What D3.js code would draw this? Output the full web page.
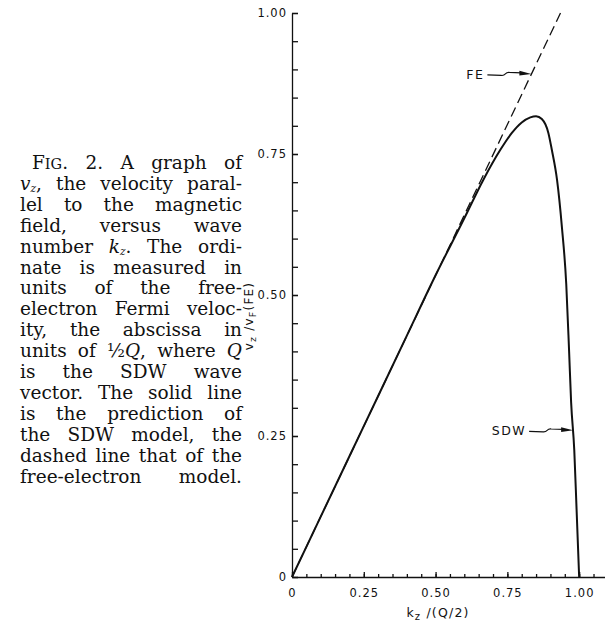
<!DOCTYPE html>
<html>
<head>
<meta charset="utf-8">
<script src="https://cdn.jsdelivr.net/npm/d3@7/dist/d3.min.js"></script>
<style>
  body { margin: 0; background: #fff; }
  svg { display: block; }
  .tick text { font-family: "DejaVu Sans", sans-serif; font-size: 11.5px; letter-spacing: 1px; fill: #111; }
  .caption { font-family: "DejaVu Serif", serif; font-size: 18.5px; fill: #111; }
</style>
</head>
<body>
<script>
// free-electron model (dashed line)
var feK = [0, 0.935];
var feV = [0, 1.0];

// SDW model (solid line)
var sdwK = [0, 0.1, 0.2, 0.3, 0.4, 0.5, 0.6, 0.666, 0.725, 0.765, 0.8, 0.83, 0.85, 0.87, 0.893, 0.905, 0.923, 0.94, 0.955, 0.965, 0.972, 0.983, 0.991, 1.0];
var sdwV = [0, 0.107, 0.214, 0.321, 0.428, 0.535, 0.636, 0.704, 0.757, 0.787, 0.806, 0.815, 0.817, 0.812, 0.787, 0.757, 0.704, 0.62, 0.52, 0.40, 0.31, 0.225, 0.12, 0];

// axis ticks
var majorTicks = [0, 0.25, 0.5, 0.75, 1.0];
var tickLabels = ["0", "0.25", "0.50", "0.75", "1.00"];
var xMinor = d3.range(0, 22).map(function(i){ return i * 0.05; });
var yMinor = d3.range(0, 21).map(function(i){ return i * 0.05; });

// caption lines: [text, style] segments
var captionLines = [
    [["F", ""], ["IG", "sc"], [". 2. A graph of", ""]],
    [["v", "i"], ["z", "isub"], [", the velocity paral-", ""]],
    [["lel to the magnetic", ""]],
    [["field, versus wave", ""]],
    [["number ", ""], ["k", "i"], ["z", "isub"], [". The ordi-", ""]],
    [["nate is measured in", ""]],
    [["units of the free-", ""]],
    [["electron Fermi veloc-", ""]],
    [["ity, the abscissa in", ""]],
    [["units of ", ""], ["\u00BD", ""], ["Q", "i"], [", where ", ""], ["Q", "i"]],
    [["is the SDW wave", ""]],
    [["vector. The solid line", ""]],
    [["is the prediction of", ""]],
    [["the SDW model, the", ""]],
    [["dashed line that of the", ""]],
    [["free-electron model.", ""]]
];

var width = 605, height = 631;

var svg = d3.select("body")
    .append("svg")
    .attr("width", width)
    .attr("height", height);

var x = d3.scaleLinear().domain([0, 1.09]).range([292, 605]);
var y = d3.scaleLinear().domain([0, 1]).range([577, 13]);

//x axis: minor ticks then labelled major ticks
svg.append("g")
    .attr("transform", "translate(0," + y(0) + ")")
    .call(d3.axisBottom(x).tickValues(xMinor).tickSizeInner(-3).tickSizeOuter(0).tickFormat(""))
    .call(function(g){ g.selectAll("line, path").attr("stroke", "#111").attr("stroke-width", 1.3); });

svg.append("g")
    .attr("transform", "translate(0," + y(0) + ")")
    .call(d3.axisBottom(x).tickValues(majorTicks).tickSizeInner(-5).tickSizeOuter(0).tickPadding(12)
        .tickFormat(function(d, i){ return tickLabels[i]; }))
    .call(function(g){
        g.select(".domain").remove();
        g.selectAll("line").attr("stroke", "#111").attr("stroke-width", 1.3);
    });

//y axis
svg.append("g")
    .attr("transform", "translate(" + x(0) + ",0)")
    .call(d3.axisLeft(y).tickValues(yMinor).tickSizeInner(-6).tickSizeOuter(0).tickFormat(""))
    .call(function(g){ g.selectAll("line, path").attr("stroke", "#111").attr("stroke-width", 1.3); });

svg.append("g")
    .attr("transform", "translate(" + x(0) + ",0)")
    .call(d3.axisLeft(y).tickValues(majorTicks).tickSizeInner(-6).tickSizeOuter(0).tickPadding(5)
        .tickFormat(function(d, i){ return tickLabels[i]; }))
    .call(function(g){
        g.select(".domain").remove();
        g.selectAll("line").attr("stroke", "#111").attr("stroke-width", 1.3);
    });

//axis titles
var xTitle = svg.append("text")
    .attr("x", 438).attr("y", 617)
    .attr("text-anchor", "middle")
    .style("font-family", "DejaVu Sans, sans-serif")
    .style("font-size", "12.5px")
    .style("letter-spacing", "1.2px")
    .style("fill", "#111");
xTitle.append("tspan").text("k");
xTitle.append("tspan").attr("dy", 3).style("font-size", "10px").text("z");
xTitle.append("tspan").attr("dy", -3).text(" /(Q/2)");

var yTitle = svg.append("text")
    .attr("transform", "translate(253,316) rotate(-90)")
    .attr("text-anchor", "middle")
    .style("font-family", "DejaVu Sans, sans-serif")
    .style("font-size", "12px")
    .style("letter-spacing", "1.2px")
    .style("fill", "#111");
yTitle.append("tspan").text("v");
yTitle.append("tspan").attr("dy", 3).style("font-size", "9.5px").text("z");
yTitle.append("tspan").attr("dy", -3).text(" /v");
yTitle.append("tspan").attr("dy", 3).style("font-size", "9.5px").text("F");
yTitle.append("tspan").attr("dy", -3).text("(FE)");

//curves
var line = d3.line()
    .x(function(d){ return x(d[0]); })
    .y(function(d){ return y(d[1]); });

svg.append("path")
    .datum(d3.zip(feK, feV))
    .attr("d", line)
    .attr("fill", "none")
    .attr("stroke", "#111")
    .attr("stroke-width", 1.3)
    .attr("stroke-dasharray", "10,5");

svg.append("path")
    .datum(d3.zip(sdwK, sdwV))
    .attr("d", line.curve(d3.curveMonotoneX))
    .attr("fill", "none")
    .attr("stroke", "#111")
    .attr("stroke-width", 2);

//annotation arrows (tip positions in data units)
function labelArrow(label, tipK, tipV, len){
    var tx = x(tipK), ty = y(tipV);
    var sx = tx - len;
    svg.append("text")
        .attr("x", sx - 3).attr("y", ty + 5)
        .attr("text-anchor", "end")
        .style("font-family", "DejaVu Sans, sans-serif")
        .style("font-size", "12.5px")
        .style("letter-spacing", "1.5px")
        .style("fill", "#111")
        .text(label);
    var p = d3.path();
    p.moveTo(sx, ty + 1);
    p.lineTo(sx + 14, ty + 1.5);
    p.bezierCurveTo(sx + 19, ty + 2, sx + 17, ty - 2, sx + 22, ty - 1.5);
    p.lineTo(tx - 10, ty - 1);
    svg.append("path").attr("d", p.toString())
        .attr("fill", "none").attr("stroke", "#111").attr("stroke-width", 1.1);
    svg.append("path")
        .attr("d", "M" + (tx - 12) + "," + (ty - 3.2) + "L" + tx + "," + ty + "L" + (tx - 12) + "," + (ty + 1.6) + "Z")
        .attr("fill", "#111");
}
labelArrow("FE", 0.892 / 1.07, 0.892, 44);
labelArrow("SDW", 0.979, 0.26, 44);

//caption, justified between left and right edges
var capLeft = 20, capRight = 242, capTop = 169, lineH = 20.9;
captionLines.forEach(function(segs, i){
    var indent = i === 0 ? 12 : 0;
    var t = svg.append("text")
        .attr("class", "caption")
        .attr("x", capLeft + indent)
        .attr("y", capTop + i * lineH);
    var shifted = false;
    segs.forEach(function(s){
        var ts = t.append("tspan").text(s[0]);
        if (s[1] === "sc") ts.style("font-size", "14.5px");
        if (s[1] === "i" || s[1] === "isub") ts.style("font-style", "italic");
        if (s[1] === "isub") { ts.attr("dy", 2.5).style("font-size", "10.5px"); shifted = true; }
        else if (shifted) { ts.attr("dy", -2.5); shifted = false; }
    });
    var txt = segs.map(function(s){ return s[0]; }).join("");
    var spaces = (txt.match(/ /g) || []).length;
    var natural = t.node().getComputedTextLength();
    var target = capRight - capLeft - indent;
    if (spaces > 0) t.attr("word-spacing", (target - natural) / spaces);
});
</script>
</body>
</html>
